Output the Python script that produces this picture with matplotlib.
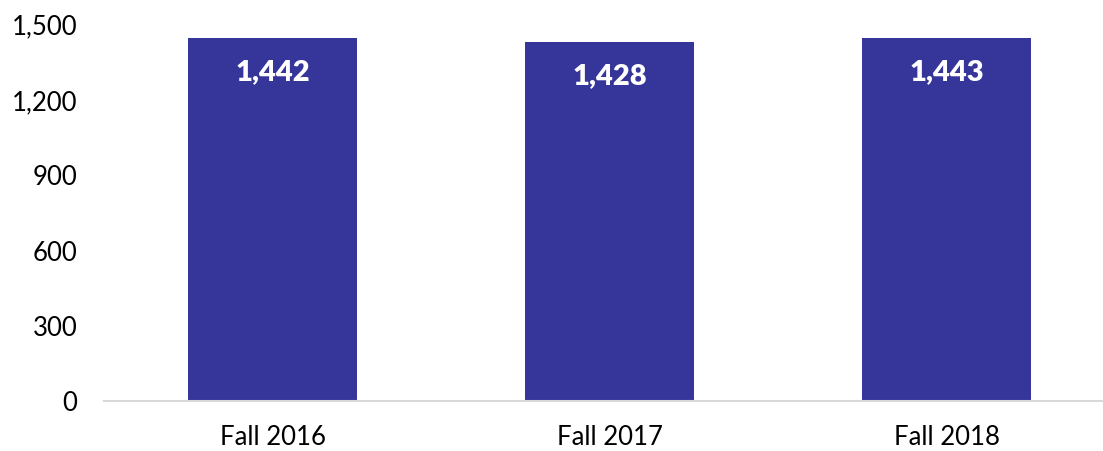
import matplotlib.pyplot as plt
import numpy as np

categories = ['Fall 2016', 'Fall 2017', 'Fall 2018']
values = [1442, 1428, 1443]
yticks = [0, 300, 600, 900, 1200, 1500]

plt.rcParams['font.family'] = ['Lato', 'DejaVu Sans']

fig = plt.figure(figsize=(11.03, 4.52), dpi=100)
ax = fig.add_axes([104 / 1103, 1 - 401.5 / 452, 1 - 104 / 1103, (401.5 - 24.4) / 452])

x = np.arange(len(categories))
bars = ax.bar(x, values, width=0.5, color='#35359a', zorder=2)

for b, v in zip(bars, values):
    ax.annotate('{:,}'.format(v), (b.get_x() + b.get_width() / 2, v),
                xytext=(0, -24), textcoords='offset points',
                ha='center', va='center', color='white',
                fontsize=21, fontweight='heavy')

ax.set_xlim(-0.5, 2.5 - 12 / 337)
ax.set_ylim(0, 1500)
ax.set_xticks(x)
ax.set_xticklabels(categories)
ax.set_yticks(yticks)
ax.set_yticklabels(['{:,}'.format(t) for t in yticks])
ax.tick_params(axis='both', length=0, labelsize=18.5)
ax.tick_params(axis='x', pad=17)
ax.tick_params(axis='y', pad=19)

for s in ['top', 'right', 'left']:
    ax.spines[s].set_visible(False)
ax.spines['bottom'].set_color('#d9d9d9')
ax.spines['bottom'].set_linewidth(1.5)

fig.savefig('out.png', dpi=100)
